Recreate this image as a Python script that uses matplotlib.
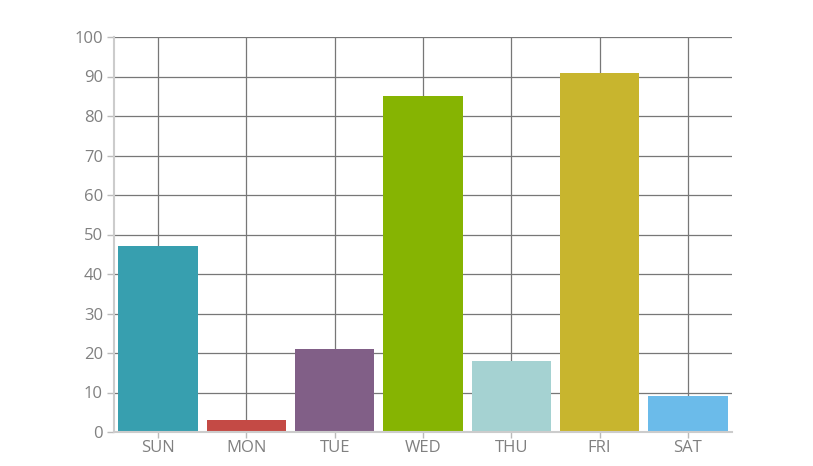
import matplotlib
matplotlib.use("Agg")
import matplotlib.pyplot as plt

categories = ["SUN", "MON", "TUE", "WED", "THU", "FRI", "SAT"]
values = [47, 3, 21, 85, 18, 91, 9]
colors = ["#379FAF", "#C44A45", "#815F87", "#86B402", "#A5D2D2", "#C8B52E", "#6BBBEA"]
yticks = list(range(0, 101, 10))

plt.rcParams['font.family'] = ['Open Sans', 'DejaVu Sans']

fig = plt.figure(figsize=(8.13, 4.66), dpi=100)
ax = fig.add_axes([114/813, 1-432/466, (732-114)/813, (432-37)/466])

x = list(range(len(categories)))
ax.bar(x, values, width=0.9, color=colors, zorder=3)

ax.set_xlim(-0.5, 6.5)
ax.set_ylim(0, 100)
ax.set_yticks(yticks)
ax.set_xticks(x)
ax.set_xticklabels(categories)

ax.grid(True, axis='both', color='#777777', linewidth=0.9, zorder=0)
ax.set_axisbelow(True)

for s in ['top', 'right']:
    ax.spines[s].set_visible(False)
for s in ['left', 'bottom']:
    ax.spines[s].set_color('#CCCCCC')
    ax.spines[s].set_linewidth(1.5)
    ax.spines[s].set_zorder(4)

ax.tick_params(axis='y', colors='#BBBBBB', length=5, width=1, labelcolor='#808080', labelsize=12, pad=3)
ax.tick_params(axis='x', colors='#BBBBBB', length=4, width=1, labelcolor='#808080', labelsize=12, pad=2)

fig.savefig("out.png", dpi=100)
